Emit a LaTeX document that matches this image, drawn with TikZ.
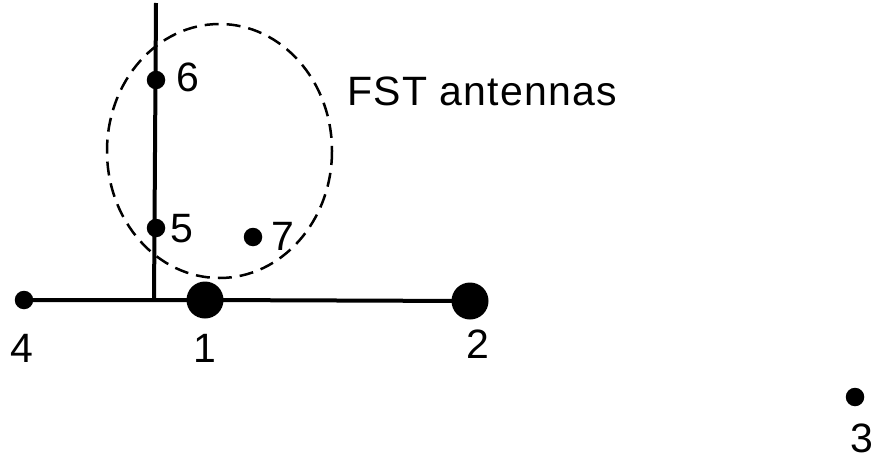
\documentclass[tikz,border=0pt]{standalone}
\usepackage{fontspec}
\setmainfont{Liberation Sans}
\begin{document}
\begin{tikzpicture}[x=1pt,y=-1pt,
  bigdot/.style={circle,fill=black,inner sep=0pt,minimum size=37pt},
  smalldot/.style={circle,fill=black,inner sep=0pt,minimum size=18.5pt},
  lbl/.style={anchor=base,inner sep=0pt,font=\fontsize{41}{45}\selectfont},
  wire/.style={line width=4pt},
  zone/.style={line width=2.5pt,dash pattern=on 14pt off 8pt}]
\useasboundingbox (0,0) rectangle (875,460);
% connectors
\coordinate (vt) at (156,3);
\coordinate (vb) at (154,301);
\node[smalldot] (n4) at (24,300) {};
\node[bigdot] (n1) at (205,300) {};
\node[bigdot] (n2) at (470,301) {};
\node[smalldot] (n6) at (156,80) {};
\node[smalldot] (n5) at (156,228) {};
\node[smalldot] (n7) at (253,237) {};
\node[smalldot] (n3) at (855,397) {};
\draw[wire] (n4.center) -- (n1.center) -- (n2.center);
\draw[wire] (vt) -- (vb);
% antenna zone
\draw[zone] (219.5,151) ellipse [x radius=112.5, y radius=127];
% labels
\node[lbl] (l6) at (188,91) {6};
\node[lbl] (l5) at (182,242) {5};
\node[lbl] (l7) at (283,250) {7};
\node[lbl] (l4) at (22,362) {4};
\node[lbl] (l1) at (205,362) {1};
\node[lbl] (l2) at (478,358) {2};
\node[lbl] (l3) at (862,452) {3};
\node[lbl,anchor=base west] (fst) at (347,105) {\addfontfeature{LetterSpace=3}FST antennas};
\end{tikzpicture}
\end{document}
